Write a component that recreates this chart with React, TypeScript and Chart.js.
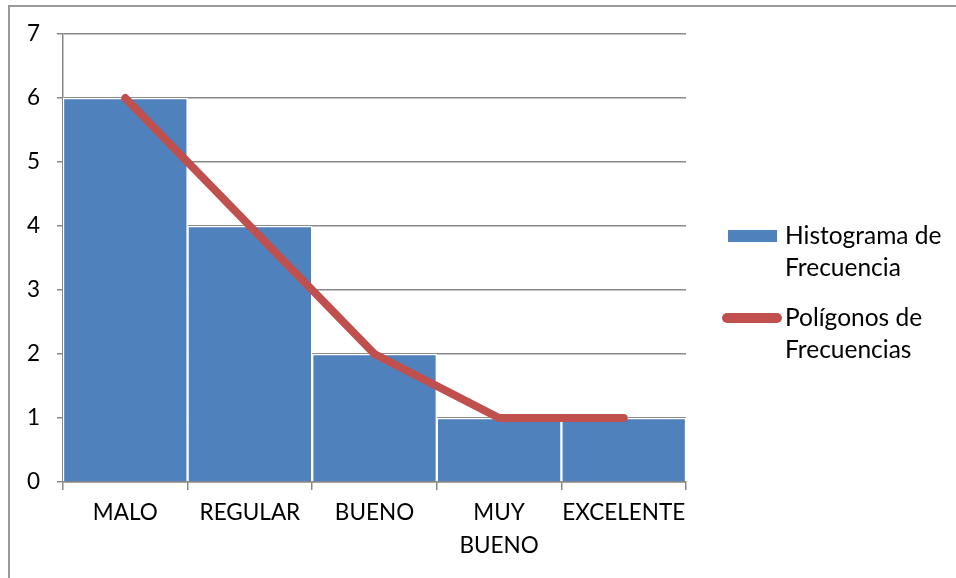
import React, { useEffect, useRef } from "react";
import { Chart, registerables } from "chart.js";

Chart.register(...registerables);

const categories: (string | string[])[] = ["MALO", "REGULAR", "BUENO", ["MUY", "BUENO"], "EXCELENTE"];
const histogramValues = [6, 4, 2, 1, 1];
const polygonValues = [6, 4, 2, 1, 1];
const yMin = 0;
const yMax = 7;
const yStep = 1;
const seriesNames = ["Histograma de Frecuencia", "Polígonos de Frecuencias"];
const legendLines = [["Histograma de", "Frecuencia"], ["Polígonos de", "Frecuencias"]];

const BAR_COLOR = "#4F81BD";
const LINE_COLOR = "#C0504D";
const GRID = "#888888";
const FONT = "Lato, 'Open Sans', sans-serif";

export default function App() {
  const ref = useRef<HTMLCanvasElement | null>(null);

  useEffect(() => {
    if (!ref.current) return;
    const chart = new Chart(ref.current, {
      type: "bar",
      data: {
        labels: categories as any,
        datasets: [
          {
            type: "line",
            label: seriesNames[1],
            data: polygonValues,
            borderColor: LINE_COLOR,
            backgroundColor: LINE_COLOR,
            borderWidth: 8,
            borderCapStyle: "round",
            borderJoinStyle: "round",
            pointRadius: 0,
            pointHoverRadius: 0,
            tension: 0,
            order: 0,
          } as any,
          {
            type: "bar",
            label: seriesNames[0],
            data: histogramValues,
            backgroundColor: BAR_COLOR,
            borderColor: "#FFFFFF",
            borderWidth: 1.5,
            barPercentage: 1,
            categoryPercentage: 1,
            order: 1,
          } as any,
        ],
      },
      options: {
        responsive: false,
        animation: false,
        layout: { padding: { left: 0, right: 270, top: 34, bottom: 0 } },
        plugins: {
          legend: { display: false },
          tooltip: { enabled: false },
          title: { display: false },
        },
        scales: {
          x: {
            grid: {
              drawOnChartArea: false,
              drawTicks: true,
              tickLength: 8,
              color: GRID,
              lineWidth: 1.5,
              offset: true,
            },
            border: { display: true, color: GRID, width: 1.5 },
            ticks: {
              color: "#000",
              font: { family: FONT, size: 22.5, lineHeight: 1.47 },
              padding: 6,
              maxRotation: 0,
              minRotation: 0,
              autoSkip: false,
            },
            afterFit: (s: any) => {
              s.height = 96;
            },
          },
          y: {
            min: yMin,
            max: yMax,
            ticks: {
              stepSize: yStep,
              color: "#000",
              font: { family: FONT, size: 22.5 },
              padding: 17,
            },
            grid: { color: GRID, lineWidth: 1.5, tickLength: 6, drawTicks: true },
            border: { display: true, color: GRID, width: 1.5 },
            afterFit: (s: any) => {
              s.width = 63;
            },
          },
        },
      } as any,
    });
    return () => chart.destroy();
  }, []);

  const textStyle: React.CSSProperties = {
    position: "absolute",
    left: 785,
    fontFamily: FONT,
    fontSize: 24.5,
    lineHeight: "32px",
    color: "#000",
    whiteSpace: "nowrap",
  };

  return (
    <div style={{ position: "fixed", left: 0, top: 0, width: 956, height: 578, overflow: "hidden", background: "#fff" }}>
      <canvas ref={ref} width={956} height={578} style={{ position: "absolute", left: 0, top: 0 }} />
      <div
        style={{
          position: "absolute",
          left: 8,
          top: 5,
          width: 1000,
          height: 700,
          border: "2px solid #999",
          pointerEvents: "none",
        }}
      />
      <div style={{ position: "absolute", left: 728, top: 230, width: 49, height: 12, background: BAR_COLOR }} />
      <div style={{ ...textStyle, top: 219 }}>
        {legendLines[0].map((l, i) => (
          <div key={i}>{l}</div>
        ))}
      </div>
      <div style={{ position: "absolute", left: 722, top: 313, width: 60, height: 10, borderRadius: 5, background: LINE_COLOR }} />
      <div style={{ ...textStyle, top: 301 }}>
        {legendLines[1].map((l, i) => (
          <div key={i}>{l}</div>
        ))}
      </div>
    </div>
  );
}
